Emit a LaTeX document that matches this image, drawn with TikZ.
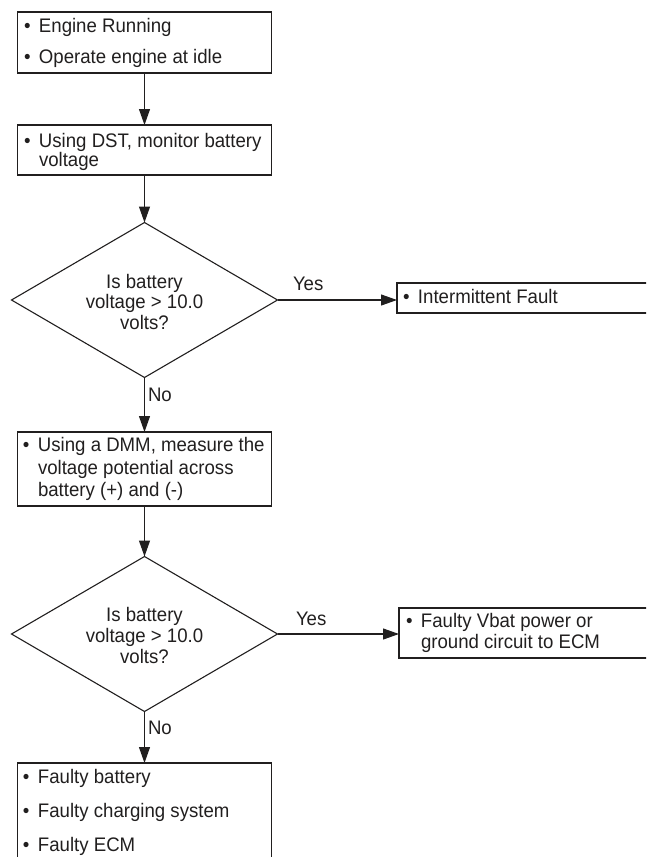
\documentclass[tikz,border=0pt]{standalone}
\usepackage{fontspec}
\setmainfont{Liberation Sans}[FakeStretch=0.95]
\usetikzlibrary{arrows.meta,shapes.geometric}
\definecolor{ink}{rgb}{0.13,0.12,0.12}
\newcommand{\bulletmark}{\makebox[15pt][l]{•}}
\begin{document}
\begin{tikzpicture}[x=1pt,y=-1pt,
  every node/.style={font=\fontsize{19.6}{23}\selectfont, text=ink, inner sep=0pt, outer sep=0pt},
  box/.style={draw=ink, line width=1.1pt, rectangle, minimum width=254pt},
  sidebox/.style={draw=ink, line width=1.1pt, rectangle, minimum width=264pt},
  decision/.style={draw=ink, line width=1.1pt, diamond, minimum width=266pt, minimum height=155pt},
  line/.style={draw=ink, line width=1.1pt},
  flow/.style={line, -{Triangle[length=16pt,width=11pt]}},
  lbl/.style={anchor=base west},
  ctr/.style={anchor=base}]
\useasboundingbox (0,0) rectangle (646,857);
\clip (0,0) rectangle (646,857);

% process boxes on the main column
\node[box, minimum height=61pt] (b1) at (144.5,42.5) {};
\node[box, minimum height=50pt] (b2) at (144.5,150) {};
\node[box, minimum height=74pt] (b3) at (144.5,469) {};
\node[box, minimum height=117pt] (b4) at (144.5,821.5) {};

% decisions
\node[decision] (d1) at (144.5,300) {};
\node[decision] (d2) at (144.5,634) {};

% results on the right
\node[sidebox, minimum height=30pt] (r1) at (529,298) {};
\node[sidebox, minimum height=50pt] (r2) at (531,633) {};

% texts of box 1
\node[lbl] (t1a) at (24,32) {\bulletmark Engine Running};
\node[lbl] (t1b) at (24,63) {\bulletmark Operate engine at idle};
% texts of box 2
\node[lbl] (t2a) at (24,147) {\bulletmark Using DST, monitor battery};
\node[lbl] (t2b) at (39,166) {voltage};
% texts of decision 1
\node[ctr] (q1a) at (144.5,288) {Is battery};
\node[ctr] (q1b) at (144.5,308) {voltage > 10.0};
\node[ctr] (q1c) at (144.5,329) {volts?};
% text of result 1
\node[lbl] (s1a) at (403,303) {\bulletmark Intermittent Fault};
% texts of box 3
\node[lbl] (t3a) at (23,451) {\bulletmark Using a DMM, measure the};
\node[lbl] (t3b) at (38,474) {voltage potential across};
\node[lbl] (t3c) at (38,496) {battery (+) and (-)};
% texts of decision 2
\node[ctr] (q2a) at (144.5,621) {Is battery};
\node[ctr] (q2b) at (144.5,642) {voltage > 10.0};
\node[ctr] (q2c) at (144.5,663) {volts?};
% texts of result 2
\node[lbl] (s2a) at (406,627) {\bulletmark Faulty Vbat power or};
\node[lbl] (s2b) at (421,648) {ground circuit to ECM};
% texts of box 4
\node[lbl] (t4a) at (23,783) {\bulletmark Faulty battery};
\node[lbl] (t4b) at (23,817) {\bulletmark Faulty charging system};
\node[lbl] (t4c) at (23,851) {\bulletmark Faulty ECM};

% branch labels
\node[lbl] (y1) at (293,290) {Yes};
\node[lbl] (n1) at (148,401) {No};
\node[lbl] (y2) at (296,625) {Yes};
\node[lbl] (n2) at (148,734) {No};

% connectors
\draw[flow] (b1.south) -- (b2.north);
\draw[flow] (b2.south) -- (d1.north);
\draw[flow] (d1.east) -- (d1.east -| r1.west);
\draw[flow] (d1.south) -- (b3.north);
\draw[flow] (b3.south) -- (d2.north);
\draw[flow] (d2.east) -- (d2.east -| r2.west);
\draw[flow] (d2.south) -- (b4.north);
\end{tikzpicture}
\end{document}
